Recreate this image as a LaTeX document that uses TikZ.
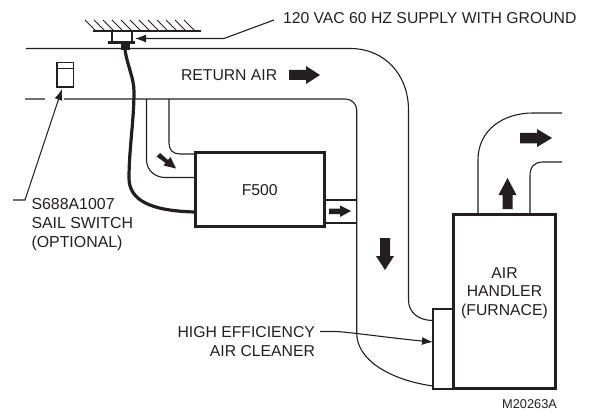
\documentclass[tikz,border=0pt]{standalone}
\usepackage{fontspec}
\setmainfont{Liberation Sans}
\usetikzlibrary{arrows.meta}
\definecolor{ink}{HTML}{231F20}
\tikzset{
  duct/.style={draw=ink,line width=1.1pt},
  heavy/.style={draw=ink,line width=3pt,fill=white,outer sep=0pt,inner sep=0pt},
  label/.style={inner sep=0pt,outer sep=0pt,text=ink,font=\fontsize{15.75}{18.3}\selectfont,align=center},
  leader/.style={draw=ink,line width=1.1pt,-{Latex[length=11pt,width=8pt]}},
  fat/.style={fill=ink,draw=none},
}
\begin{document}
\begin{tikzpicture}[x=1pt,y=-1pt]
\useasboundingbox (0,0) rectangle (590,412);
% ducts
\draw[duct] (26,48.5) -- (350,48.5) .. controls (385,48.5) and (408.5,75) .. (408.5,110) -- (408.5,300) .. controls (408.5,312) and (418,320.5) .. (433,320.5);
\draw[duct] (25,99) -- (45,99) (64,99) -- (345,99) .. controls (352,99) and (356.7,104) .. (356.7,110) -- (356.7,333) .. controls (356.7,360) and (390,380) .. (433,386);
\draw[duct] (146.5,99) -- (146.5,160) .. controls (146.5,170) and (155,177.5) .. (165,177.5) -- (195,177.5);
\draw[duct] (169,99) -- (169,143) .. controls (169,150) and (173,154) .. (180,154) -- (195,154);
\draw[duct] (324,200) -- (356.7,200) (324,223) -- (356.7,223);
\draw[duct] (478,214) -- (478,160) .. controls (478,130) and (503,113) .. (533,113) -- (562,113);
\draw[duct] (530,214) -- (530,176) .. controls (530,167) and (534,162) .. (543,162) -- (562,162);
% ceiling
\draw[draw=ink,line width=1.4pt] (93,31) -- (201,31);
\foreach \i in {0,...,11} \draw[draw=ink,line width=0.9pt] (85+9*\i,20) -- (96+9*\i,31);
% mount
\draw[draw=ink,line width=1.6pt] (112,31) -- (112,42) (132,31) -- (132,42);
\draw[draw=ink,line width=2.4pt] (108,42.5) -- (135,42.5);
\fill[ink] (121,43) rectangle (130,50);
% cable
\coordinate (cableA) at (125,50);
\node[heavy,minimum width=128.5pt,minimum height=73.5pt,anchor=north west,font=\fontsize{15.75}{18}\selectfont,text=ink] (filterbox) at (195.5,153) {F500};
\draw[draw=ink,line width=3.2pt] (cableA) .. controls (128,68) and (134,78) .. (134,92) .. controls (134,120) and (129,150) .. (129,178) .. controls (129,200) and (150,211) .. (filterbox.west |- 0,212);
% air handler
\node[heavy,minimum width=102pt,minimum height=174.5pt,anchor=north west] (handler) at (453.5,214) {};
\node[label] (handlertext) at (504.5,293) {AIR\\HANDLER\\(FURNACE)};
\node[draw=ink,line width=2.2pt,fill=white,outer sep=0pt,minimum width=20.5pt,minimum height=79.7pt,inner sep=0pt,anchor=north west] (cleaner) at (433,309) {};
% sail switch
\node[draw=ink,line width=1.4pt,outer sep=0pt,minimum width=16.5pt,minimum height=24.5pt,inner sep=0pt,anchor=north west] (sail) at (57,62.5) {};
\draw[draw=ink,line width=0.9pt] (57,68) -- (73.5,68);
% flow arrows
\fill[fat] (289,70) -- (306,70) -- (306,66) -- (320,75) -- (306,84) -- (306,80) -- (289,80) -- cycle;
\fill[fat] (520,133) -- (537,133) -- (537,129) -- (552,138) -- (537,147) -- (537,143.5) -- (520,143.5) -- cycle;
\fill[fat] (502.5,209) -- (502.5,195) -- (498.5,195) -- (507.5,178) -- (516.5,195) -- (512.5,195) -- (512.5,209) -- cycle;
\fill[fat] (380,238) -- (390,238) -- (390,256) -- (394,256) -- (385,270) -- (376,256) -- (380,256) -- cycle;
\fill[fat] (329,208.5) -- (340,208.5) -- (340,205.5) -- (351,211) -- (340,217) -- (340,214) -- (329,214) -- cycle;
\fill[fat] (160,153) -- (168,160) -- (170.5,157) -- (176,168.5) -- (163.5,165.5) -- (165.5,163) -- (156.5,156.5) -- cycle;
% labels
\node[label,anchor=west] (supply) at (283,18.5) {120 VAC 60 HZ SUPPLY WITH GROUND};
\node[label,anchor=west] (return) at (181,75) {RETURN AIR};
\node[label,anchor=north west,align=left,font=\fontsize{15.9}{19}\selectfont] (sailtext) at (31.5,198) {S688A1007\\SAIL SWITCH\\(OPTIONAL)};
\node[label,anchor=east] (hepa1) at (315,332.5) {HIGH EFFICIENCY};
\node[label,anchor=east] (hepa2) at (315,351.5) {AIR CLEANER};
\node[label,anchor=east,font=\fontsize{12.8}{13}\selectfont] (code) at (557,404) {M20263A};
% leaders
\coordinate (supplyend) at (274,20);
\coordinate (supplybend) at (224,38.5);
\coordinate (mounttip) at (135,38.5);
\draw[leader] (supplyend) -- (supplybend) -- (mounttip);
\coordinate (sailend) at (13,200);
\coordinate (sailbend) at (25,200);
\coordinate (sailtip) at (62,89);
\draw[leader] (sailend) -- (sailbend) -- (sailtip);
\coordinate (hepaend) at (320,331.5);
\coordinate (hepatip) at (433,342);
\draw[leader] (hepaend) -- (335,331.5) .. controls (345,331.5) and (390,338) .. (hepatip);
\end{tikzpicture}
\end{document}
